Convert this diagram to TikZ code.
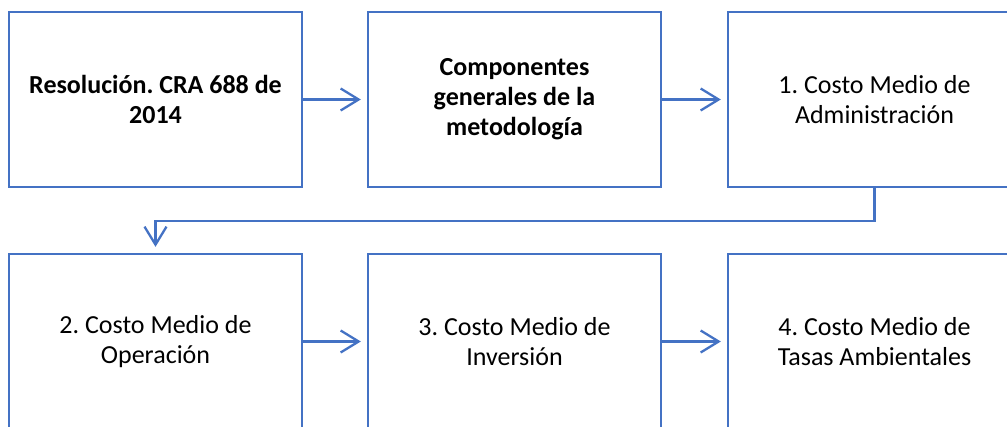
\documentclass[tikz,border=0pt]{standalone}
\usepackage{fontspec}
\setmainfont{Carlito}
\frenchspacing
\usetikzlibrary{arrows.meta}
\definecolor{azul}{HTML}{4472C4}
\begin{document}
\begin{tikzpicture}[x=1pt,y=-1pt,
    caja/.style={draw=azul,line width=2.3pt,minimum width=293pt,minimum height=175pt,
      align=center,inner sep=0pt,font=\fontsize{26}{30}\selectfont},
    flecha/.style={draw=azul,line width=2.3pt,shorten >=6pt,
      -{Straight Barb[length=18pt,width=22pt,line width=2.3pt]}}]
        \useasboundingbox (0,0) rectangle (1007,426);
        \clip (0,0) rectangle (1007,426);
        \node[caja] (res) at (155.5,99.5) {\textbf{Resolución. CRA 688 de}\\\textbf{2014}};
        \node[caja] (comp) at (514.5,99.5) {\textbf{Componentes}\\\textbf{generales de la}\\\textbf{metodología}};
        \node[caja] (adm) at (874.5,99.5) {1. Costo Medio de\\Administración};
        \node[caja] (ope) at (155.5,341.5) {2. Costo Medio de\\Operación};
        \node[caja] (inv) at (514.5,341.5) {3. Costo Medio de\\Inversión};
        \node[caja] (tas) at (874.5,341.5) {4. Costo Medio de\\Tasas Ambientales};
        \draw[flecha] (res) -- (comp);
        \draw[flecha] (comp) -- (adm);
        \draw[flecha] (adm.south) -- ++(0,33) -| (ope.north);
        \draw[flecha] (ope) -- (inv);
        \draw[flecha] (inv) -- (tas);
      \end{tikzpicture}
\end{document}
